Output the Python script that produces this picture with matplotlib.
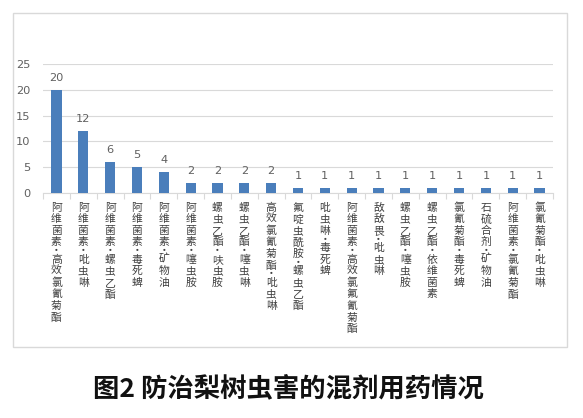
import matplotlib
matplotlib.use('Agg')
import matplotlib.pyplot as plt
from matplotlib.patches import Rectangle
import numpy as np

plt.rcParams['font.family'] = ['Noto Sans CJK SC', 'DejaVu Sans']

# mixture names and how often each was used
labels = [
    '阿维菌素·高效氯氰菊酯', '阿维菌素·吡虫啉', '阿维菌素·螺虫乙酯', '阿维菌素·毒死蜱',
    '阿维菌素·矿物油', '阿维菌素·噻虫胺', '螺虫乙酯·呋虫胺', '螺虫乙酯·噻虫啉',
    '高效氯氰菊酯·吡虫啉', '氟啶虫酰胺·螺虫乙酯', '吡虫啉·毒死蜱', '阿维菌素·高效氯氟氰菊酯',
    '敌敌畏·吡虫啉', '螺虫乙酯·噻虫胺', '螺虫乙酯·依维菌素', '氯氰菊酯·毒死蜱',
    '石硫合剂·矿物油', '阿维菌素·氯氰菊酯', '氯氰菊酯·吡虫啉',
]
counts = [20, 12, 6, 5, 4, 2, 2, 2, 2, 1, 1, 1, 1, 1, 1, 1, 1, 1, 1]
yticks = [0, 5, 10, 15, 20, 25]

W, H = 583, 418
fig = plt.figure(figsize=(W / 100, H / 100), dpi=100)

# light frame around the chart area
fig.patches.append(Rectangle((13 / W, 1 - 347 / H), (567 - 13) / W, (347 - 13) / H,
                             transform=fig.transFigure, fill=False,
                             edgecolor='#d9d9d9', linewidth=1.0))

ax = fig.add_axes([43 / W, 1 - 193 / H, (553 - 43) / W, (193 - 64) / H])
x = np.arange(len(counts))
bars = ax.bar(x, counts, width=0.38, color='#4a7ebb', zorder=3)
ax.bar_label(bars, padding=5, fontsize=8.2, color='#606060', family='DejaVu Sans')

ax.set_xlim(-0.5, len(counts) - 0.5)
ax.set_ylim(0, 25)
ax.set_yticks(yticks)
ax.set_xticks(np.arange(-0.5, len(counts), 1))
ax.set_xticklabels([])
ax.tick_params(axis='x', length=4, color='#d9d9d9', direction='out')
ax.tick_params(axis='y', length=0, pad=9, labelsize=8.2, labelcolor='#606060')
for t in ax.get_yticklabels():
    t.set_family('DejaVu Sans')
ax.grid(axis='y', color='#d9d9d9', linewidth=0.8, zorder=0)
for s in ['top', 'right', 'left']:
    ax.spines[s].set_visible(False)
ax.spines['bottom'].set_color('#d9d9d9')

# vertical category labels, one character under another
step = 8.3
dot_step = 4.3
for i, lab in enumerate(labels):
    cur = -6.5
    for ch in lab:
        adv = dot_step if ch == '·' else step
        ax.annotate(ch, xy=(i, 0), xycoords='data', xytext=(0, cur - adv / 2),
                    textcoords='offset points', ha='center', va='center',
                    fontsize=7.8, color='#404040', annotation_clip=False)
        cur -= adv

fig.text(288 / W, 1 - 389 / H, '图2 防治梨树虫害的混剂用药情况', ha='center', va='center',
         fontsize=19, fontweight='bold', color='#111111')

fig.savefig('out.png', dpi=100)
